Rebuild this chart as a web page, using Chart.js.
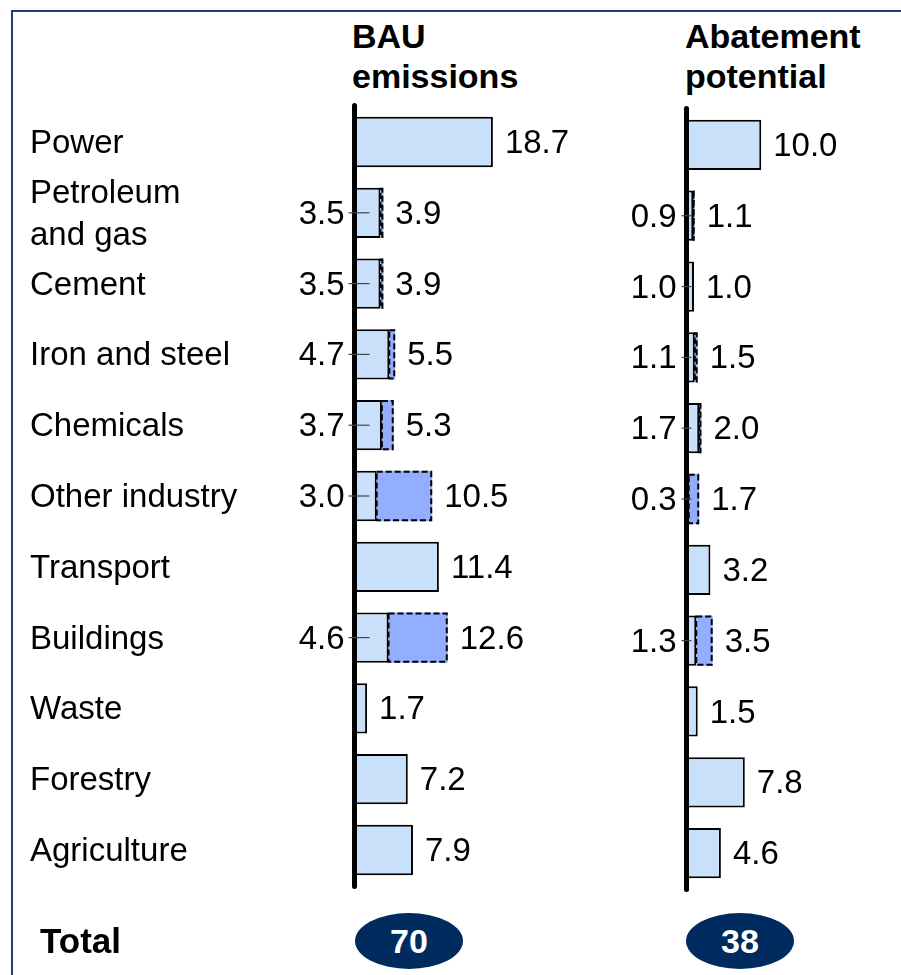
<!DOCTYPE html>
<html><head><meta charset="utf-8">
<script src="https://cdn.jsdelivr.net/npm/chart.js@4.4.1/dist/chart.umd.min.js"></script>
<style>
html, body { margin: 0; background: #fff; }
body { width: 901px; height: 975px; position: relative; overflow: hidden;
  font-family: "Liberation Sans", Arial, sans-serif; color: #000; }
#frame { position: absolute; left: 11px; top: 10px; right: -10px; bottom: -10px;
  border-top: 2px solid #1f3d7a; border-left: 2px solid #1f3d7a; }
canvas { position: absolute; top: 0; }
#c-bau { left: 0; }
#c-abate { left: 560px; }
.head { position: absolute; top: 16px; font-weight: bold; font-size: 34px; line-height: 40px; }
#total { position: absolute; left: 40px; top: 921px; font-weight: bold; font-size: 35px; line-height: 40px; }
.oval { position: absolute; top: 913px; width: 108px; height: 56px; border-radius: 50%; background: #002b5e;
  color: #fff; font-weight: bold; font-size: 34px; display: flex; align-items: center; justify-content: center; }
</style></head>
<body>
<div id="frame"></div>
<div class="head" style="left:352px">BAU<br>emissions</div>
<div class="head" style="left:685px">Abatement<br>potential</div>
<canvas id="c-bau" width="640" height="975"></canvas>
<canvas id="c-abate" width="341" height="975"></canvas>
<div id="total">Total</div>
<div class="oval" id="o-bau" style="left:355px"></div>
<div class="oval" id="o-abate" style="left:686px"></div>
<script>
const FONT = '"Liberation Sans", Arial, sans-serif';
const LIGHT = "#c8e0fa", DARK = "#93aefe";

const categories = ["Power", ["Petroleum", "and gas"], "Cement", "Iron and steel", "Chemicals",
  "Other industry", "Transport", "Buildings", "Waste", "Forestry", "Agriculture"];
// totals per sector (label at bar end)
const bauTotal = [18.7, 3.9, 3.9, 5.5, 5.3, 10.5, 11.4, 12.6, 1.7, 7.2, 7.9];
const abateTotal = [10.0, 1.1, 1.0, 1.5, 2.0, 1.7, 3.2, 3.5, 1.5, 7.8, 4.6];
// direct part where a split is shown (label left of the axis), null = no split
const bauDirect = [null, 3.5, 3.5, 4.7, 3.7, 3.0, null, 4.6, null, null, null];
const abateDirect = [null, 0.9, 1.0, 1.1, 1.7, 0.3, null, 1.3, null, null, null];
const grandTotals = [70, 38];

const $ = (s) => document.querySelector(s);
const lite = (tot, dir) => tot.map((t, i) => dir[i] ?? t);
const rest = (tot, dir) => tot.map((t, i) => dir[i] == null ? 0 : +(t - dir[i]).toFixed(1));

// axis line, dashed outline of the indirect part, value labels and leader ticks
function decor(tot, dir, lead) {
  return {
    id: "decor",
    afterDatasetsDraw(chart) {
      const { ctx, chartArea: a, scales: { x } } = chart;
      const bars = chart.getDatasetMeta(0).data, extra = chart.getDatasetMeta(1).data;
      ctx.save();
      ctx.strokeStyle = "#000"; ctx.lineWidth = 2; ctx.setLineDash([6, 3]);
      extra.forEach((b) => {
        if (Math.abs(b.x - b.base) < 0.5) return;
        ctx.strokeRect(b.base, b.y - b.height / 2 + 1, b.x - b.base - 1, b.height - 2);
      });
      ctx.setLineDash([]);
      ctx.lineWidth = 5; ctx.lineCap = "round";
      ctx.beginPath(); ctx.moveTo(a.left, a.top - 1); ctx.lineTo(a.left, a.bottom + 1); ctx.stroke();
      ctx.font = `33px ${FONT}`; ctx.fillStyle = "#000"; ctx.textBaseline = "middle";
      bars.forEach((b, i) => {
        const y = b.y + 2;
        ctx.textAlign = "left";
        ctx.fillText(tot[i].toFixed(1), x.getPixelForValue(tot[i]) + 12, y);
        if (dir[i] == null) return;
        ctx.textAlign = "right";
        ctx.fillText(dir[i].toFixed(1), a.left - 10, y);
        ctx.strokeStyle = "#444"; ctx.lineWidth = 1.2; ctx.lineCap = "butt";
        ctx.beginPath(); ctx.moveTo(a.left - lead[0], b.y); ctx.lineTo(a.left + lead[1], b.y); ctx.stroke();
      });
      ctx.restore();
    },
  };
}

function barChart(el, tot, dir, opts) {
  return new Chart($(el), {
    type: "bar",
    data: {
      labels: categories,
      datasets: [
        { data: lite(tot, dir), backgroundColor: LIGHT, borderColor: "#000", borderWidth: 2,
          borderSkipped: false, barPercentage: 0.71, categoryPercentage: 1 },
        { data: rest(tot, dir), backgroundColor: DARK, borderWidth: 0,
          barPercentage: 0.71, categoryPercentage: 1 },
      ],
    },
    options: {
      indexAxis: "y", responsive: false, animation: false,
      layout: { padding: opts.padding },
      plugins: { legend: { display: false }, tooltip: { enabled: false } },
      scales: {
        x: { stacked: true, display: false, min: 0, max: opts.max },
        y: opts.y,
      },
    },
    plugins: [decor(tot, dir, opts.lead)],
  });
}

barChart("#c-bau", bauTotal, bauDirect, {
  max: 35.75, lead: [6, 15],
  padding: { left: 30, top: 106.6, bottom: 89.6, right: 20.9 },
  y: { stacked: true, grid: { display: false }, border: { display: false },
    ticks: { crossAlign: "far", autoSkip: false, labelOffset: 2, color: "#000",
      font: { family: FONT, size: 33, lineHeight: 1.25 } },
    afterFit: (s) => { s.width = 324.5; } },
});
barChart("#c-abate", abateTotal, abateDirect, {
  max: 23.6, lead: [5, 5],
  padding: { left: 126.5, top: 109.5, bottom: 86.5, right: 38.1 },
  y: { stacked: true, display: false },
});

$("#o-bau").textContent = grandTotals[0];
$("#o-abate").textContent = grandTotals[1];
</script>
</body></html>
